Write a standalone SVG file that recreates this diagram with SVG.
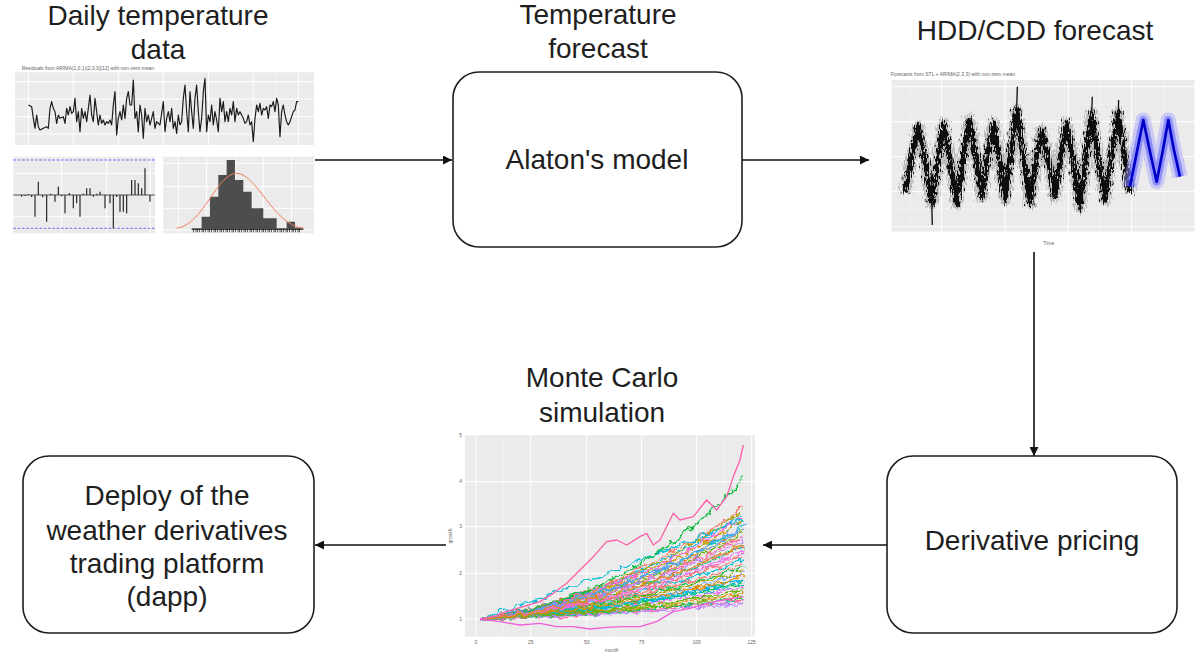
<svg xmlns="http://www.w3.org/2000/svg" width="1200" height="659" viewBox="0 0 1200 659">
<style>
.lbl{font-family:"Liberation Sans",Arial,sans-serif;font-size:28px;fill:#1e1e1e;text-anchor:middle}
.box{fill:#fff;stroke:#1e1e1e;stroke-width:1.6}
.edge{stroke:#111;stroke-width:1.6;fill:none}
.bg{fill:#ebebeb}
.maj{stroke:#fff;stroke-width:3;fill:none}
.min{stroke:#f6f6f6;stroke-width:1.5;fill:none}
.tiny{font-family:"Liberation Sans",Arial,sans-serif;font-size:15px;fill:#666}
.mc path{fill:none;stroke-width:4}
</style>
<defs>
<marker id="ah2" viewBox="0 0 10 10" refX="10" refY="5" markerWidth="9" markerHeight="9" markerUnits="userSpaceOnUse" orient="auto"><path d="M0,0 L10,5 L0,10 z" fill="#111"/></marker>
<filter id="noisy" filterUnits="userSpaceOnUse" x="60" y="20" width="930" height="480">
<feTurbulence type="fractalNoise" baseFrequency="0.3 0.06" numOctaves="2" seed="3" result="t"/>
<feDisplacementMap in="SourceGraphic" in2="t" scale="36" xChannelSelector="R" yChannelSelector="G"/>
</filter>
<filter id="w1" filterUnits="userSpaceOnUse" x="60" y="0" width="900" height="640">
<feTurbulence type="fractalNoise" baseFrequency="0.04" numOctaves="3" seed="1" result="t"/>
<feDisplacementMap in="SourceGraphic" in2="t" scale="28" xChannelSelector="R" yChannelSelector="G"/>
</filter>
<filter id="w2" filterUnits="userSpaceOnUse" x="60" y="0" width="900" height="640">
<feTurbulence type="fractalNoise" baseFrequency="0.04" numOctaves="3" seed="7" result="t"/>
<feDisplacementMap in="SourceGraphic" in2="t" scale="28" xChannelSelector="R" yChannelSelector="G"/>
</filter>
<filter id="w3" filterUnits="userSpaceOnUse" x="60" y="0" width="900" height="640">
<feTurbulence type="fractalNoise" baseFrequency="0.04" numOctaves="3" seed="13" result="t"/>
<feDisplacementMap in="SourceGraphic" in2="t" scale="28" xChannelSelector="R" yChannelSelector="G"/>
</filter>
</defs>
<rect width="1200" height="659" fill="#fff"/>

<g id="daily-temperature-data">
<text class="lbl" x="158" y="25">Daily temperature</text>
<text class="lbl" x="158" y="59">data</text>
<g transform="translate(10,65) scale(0.3333)">
<text class="tiny" x="35" y="16">Residuals from ARIMA(1,0,1)(2,0,0)[12] with non-zero mean</text>
<rect class="bg" x="15" y="22" width="897" height="218"/>
<path class="min" d="M15,76H912M15,128H912M15,181H912M122,22V240M257,22V240M392,22V240M527,22V240M662,22V240M797,22V240"/>
<path class="maj" d="M15,50H912M15,102H912M15,155H912M15,207H912M55,22V240M190,22V240M325,22V240M460,22V240M595,22V240M730,22V240M865,22V240"/>
<polyline fill="none" stroke="#1a1a1a" stroke-width="3.5" stroke-linejoin="round" points="55,120 65,125 70,160 75,190 80,150 85,185 90,195 100,190 110,185 115,190 120,130 125,110 130,130 135,140 140,175 145,150 150,160 160,155 165,175 170,130 175,150 180,125 185,145 190,140 195,100 200,170 205,140 210,200 215,130 220,160 225,140 230,170 235,130 240,90 245,150 250,170 255,100 260,140 265,180 270,150 275,175 280,165 285,180 290,170 295,175 300,165 305,180 310,120 315,80 320,210 325,160 330,140 335,165 340,120 345,160 350,100 355,80 360,120 365,120 370,45 375,160 380,140 385,200 390,120 395,150 400,220 405,130 410,170 415,150 420,180 425,160 430,140 435,190 440,170 450,180 460,110 465,200 470,160 475,140 480,170 485,130 490,190 495,170 500,205 505,150 510,180 515,170 520,100 525,60 530,140 535,200 540,80 545,140 550,190 555,100 560,60 565,140 570,200 575,160 580,80 585,40 590,200 595,150 600,170 605,120 610,180 615,140 620,165 625,200 630,100 635,140 640,110 645,170 650,140 655,170 660,130 665,150 670,110 675,170 680,130 685,150 690,140 695,150 700,160 705,175 710,170 715,150 720,180 725,170 730,230 735,160 740,120 745,140 750,115 755,150 760,130 765,135 770,125 775,160 780,120 785,125 790,110 795,140 800,100 805,120 810,215 815,140 820,120 825,150 830,170 835,180 840,170 845,155 850,140 855,135 860,110 865,110"/>
<rect class="bg" x="10" y="275" width="425" height="230"/>
<path class="maj" d="M10,325H435M10,390H435M10,455H435M155,275V505M290,275V505M420,275V505"/>
<path d="M10,285H435M10,490H435" stroke="#4a4aff" stroke-width="3" stroke-dasharray="8,5" opacity="0.8"/>
<path d="M10,390H435" stroke="#222" stroke-width="2.5"/>
<path stroke="#222" stroke-width="3.5" d="M35,390V395M45,390V393M55,390V388M65,390V396M75,390V455M85,390V350M98,390V397M110,390V470M122,390V386M135,390V410M145,390V365M155,390V394M165,390V445M178,390V384M190,390V430M200,390V415M210,390V455M220,390V386M230,390V370M240,390V370M250,390V395M260,390V386M270,390V380M285,390V430M300,390V415M310,390V490M320,390V396M330,390V440M340,390V440M350,390V445M365,390V345M375,390V345M385,390V355M395,390V370M405,390V310M420,390V410"/>
<rect class="bg" x="460" y="275" width="452" height="230"/>
<path class="maj" d="M460,495H912M460,430H912M460,365H912M460,295H912M505,275V505M590,275V505M675,275V505M760,275V505M845,275V505"/>
<path fill="#4d4d4d" d="M545,495V490H575V455H600V395H625V330H650V285H675V345H700V380H725V430H760V460H800V490H830V470H855V488H880V495Z"/>
<path fill="none" stroke="#f08060" stroke-width="3" d="M500,490 C580,480 620,325 680,325 C740,325 790,480 880,490"/>
<path d="M550,497H870" stroke="#111" stroke-width="10" stroke-dasharray="2,4,1,3,3,5"/>
</g>
</g>

<g id="temperature-forecast">
<text class="lbl" x="598" y="24">Temperature</text>
<text class="lbl" x="598" y="58">forecast</text>
<rect class="box" x="453" y="72" width="289" height="175" rx="26"/>
<text class="lbl" x="597" y="169">Alaton's model</text>
</g>

<g id="hdd-cdd-forecast">
<text class="lbl" x="1035" y="40">HDD/CDD forecast</text>
<g transform="translate(870,70) scale(0.3333)">
<text class="tiny" x="62" y="18">Forecasts from STL +  ARIMA(2,3,3) with non-zero mean</text>
<rect class="bg" x="65" y="30" width="910" height="455"/>
<path class="min" d="M65,102H975M65,207H975M65,312H975M65,417H975M120,30V485M310,30V485M500,30V485M690,30V485M880,30V485"/>
<path class="maj" d="M65,50H975M65,155H975M65,260H975M65,365H975M65,470H975M215,30V485M405,30V485M595,30V485M785,30V485M975,30V485"/>
<g filter="url(#noisy)">
<polyline fill="none" stroke="#777" stroke-opacity="0.4" stroke-width="34" stroke-linejoin="round" points="105,370 125,260 145,170 165,270 185,400 205,270 220,160 240,270 260,400 280,260 298,150 318,260 335,380 352,260 370,160 388,270 405,390 422,250 440,120 460,260 480,400 498,270 515,180 535,270 555,380 572,260 590,160 610,270 630,410 648,260 665,130 685,270 705,390 725,250 745,130 765,270 780,370"/>
<polyline fill="none" stroke="#0d0d0d" stroke-width="16" stroke-linejoin="round" points="105,370 125,260 145,170 165,270 185,400 205,270 220,160 240,270 260,400 280,260 298,150 318,260 335,380 352,260 370,160 388,270 405,390 422,250 440,120 460,260 480,400 498,270 515,180 535,270 555,380 572,260 590,160 610,270 630,410 648,260 665,130 685,270 705,390 725,250 745,130 765,270 780,370"/>
</g>
<path stroke="#111" stroke-width="4" fill="none" d="M185,390L187,465M440,120L442,50M630,400L632,430M665,130L667,80M745,130L746,90"/>
<polyline fill="none" stroke="#a0a0ff" stroke-opacity="0.45" stroke-width="45" stroke-linejoin="round" points="780,350 800,250 820,150 840,245 860,335 878,245 895,150 912,240 930,320"/>
<polyline fill="none" stroke="#5555ff" stroke-opacity="0.5" stroke-width="24" stroke-linejoin="round" points="780,350 800,250 820,150 840,245 860,335 878,245 895,150 912,240 930,320"/>
<polyline fill="none" stroke="#0000c8" stroke-width="8" stroke-linejoin="round" points="780,350 800,250 820,150 840,245 860,335 878,245 895,150 912,240 930,320"/>
<text class="tiny" x="520" y="525" fill="#a05030">Time</text>
</g>
</g>

<g id="derivative-pricing">
<rect class="box" x="887" y="456" width="290" height="177" rx="26"/>
<text class="lbl" x="1032" y="550">Derivative pricing</text>
</g>

<g id="monte-carlo-simulation">
<text class="lbl" x="602" y="387">Monte Carlo</text>
<text class="lbl" x="602" y="422">simulation</text>
<g transform="translate(440,430) scale(0.3333)">
<rect class="bg" x="75" y="15" width="870" height="605"/>
<path class="min" d="M75,85H945M75,222H945M75,360H945M75,498H945M190,15V620M356,15V620M522,15V620M688,15V620M852,15V620"/>
<path class="maj" d="M75,155H945M75,290H945M75,430H945M75,567H945M108,15V620M272,15V620M440,15V620M605,15V620M770,15V620M935,15V620"/>
<g class="tiny" text-anchor="end"><text x="66" y="20">5</text><text x="66" y="160">4</text><text x="66" y="295">3</text><text x="66" y="435">2</text><text x="66" y="572">1</text></g>
<g class="tiny" text-anchor="middle"><text x="108" y="642">0</text><text x="272" y="642">25</text><text x="440" y="642">50</text><text x="605" y="642">75</text><text x="770" y="642">100</text><text x="935" y="642">125</text><text x="515" y="665">month</text></g>
<text class="tiny" transform="translate(35,318) rotate(-90)" text-anchor="middle">growth</text>
<g class="mc" filter="url(#w1)">
<path stroke="#F8766D" d="M120,567 Q560,493 910,230"/>
<path stroke="#C99800" d="M120,567 Q560,502 910,270"/>
<path stroke="#6BB100" d="M120,567 Q560,510 910,310"/>
<path stroke="#00BF7D" d="M120,567 Q560,519 910,350"/>
<path stroke="#00BCD8" d="M120,567 Q560,528 910,390"/>
<path stroke="#619CFF" d="M120,567 Q560,537 910,430"/>
<path stroke="#E76BF3" d="M120,567 Q560,546 910,470"/>
<path stroke="#FF67A4" d="M120,567 Q560,554 910,510"/>
<path stroke="#E58700" d="M120,567 Q560,500 910,300"/>
<path stroke="#00BA38" d="M120,567 Q560,540 910,455"/>
<path stroke="#00B0F6" d="M120,567 Q560,497 910,250"/>
<path stroke="#FD61D1" d="M120,567 Q560,524 910,370"/>
</g>
<g class="mc" filter="url(#w2)">
<path stroke="#A3A500" d="M120,567 Q560,497 910,240"/>
<path stroke="#00C0AF" d="M120,567 Q560,506 910,290"/>
<path stroke="#B983FF" d="M120,567 Q560,515 910,330"/>
<path stroke="#F8766D" d="M120,567 Q560,524 910,380"/>
<path stroke="#00BA38" d="M120,567 Q560,532 910,410"/>
<path stroke="#00B0F6" d="M120,567 Q560,541 910,450"/>
<path stroke="#E58700" d="M120,567 Q560,550 910,490"/>
<path stroke="#FF67A4" d="M120,567 Q560,512 910,320"/>
<path stroke="#6BB100" d="M120,567 Q560,545 910,480"/>
<path stroke="#619CFF" d="M120,567 Q560,505 910,285"/>
<path stroke="#F8766D" d="M120,567 Q560,528 910,400"/>
<path stroke="#00BF7D" d="M120,567 Q560,552 910,505"/>
</g>
<g class="mc" filter="url(#w3)">
<path stroke="#FD61D1" d="M120,567 Q560,499 910,260"/>
<path stroke="#00BCD8" d="M120,567 Q500,440 910,265"/>
<path stroke="#C99800" d="M120,567 Q560,517 910,340"/>
<path stroke="#E76BF3" d="M120,567 Q560,526 910,360"/>
<path stroke="#A3A500" d="M120,567 Q560,535 910,420"/>
<path stroke="#00C0AF" d="M120,567 Q560,543 910,460"/>
<path stroke="#B983FF" d="M120,567 Q560,555 910,520"/>
<path stroke="#00BA38" d="M120,567 Q600,500 910,140"/>
<path stroke="#619CFF" d="M120,567 Q560,508 910,300"/>
<path stroke="#F8766D" d="M120,567 Q560,521 910,345"/>
<path stroke="#6BB100" d="M120,567 Q560,548 910,500"/>
<path stroke="#E58700" d="M120,567 Q560,538 910,440"/>
</g>
<polyline fill="none" stroke="#FF5FAA" stroke-width="4" stroke-linejoin="round" points="120,567 160,560 200,545 250,530 300,515 340,490 380,460 420,420 460,380 500,335 530,330 560,345 600,320 620,310 640,345 660,330 700,250 720,270 760,260 800,210 830,240 860,200 880,140 900,90 910,45"/>
<polyline fill="none" stroke="#F05FD8" stroke-width="4" stroke-linejoin="round" points="120,567 180,575 240,585 300,580 350,590 400,590 450,597 500,592 550,590 600,590 650,575 700,545 750,535 800,520 850,510 910,500"/>
</g>
</g>

<g id="deploy-platform">
<rect class="box" x="23" y="456" width="291" height="177" rx="26"/>
<text class="lbl" x="167" y="505">Deploy of the</text>
<text class="lbl" x="167" y="540">weather derivatives</text>
<text class="lbl" x="167" y="573">trading platform</text>
<text class="lbl" x="167" y="606">(dapp)</text>
</g>

<g id="connectors">
<path class="edge" d="M315,160H452" marker-end="url(#ah2)"/>
<path class="edge" d="M742,160H869" marker-end="url(#ah2)"/>
<path class="edge" d="M1034,252V456" marker-end="url(#ah2)"/>
<path class="edge" d="M887,545H763" marker-end="url(#ah2)"/>
<path class="edge" d="M446,545H315" marker-end="url(#ah2)"/>
</g>
</svg>
